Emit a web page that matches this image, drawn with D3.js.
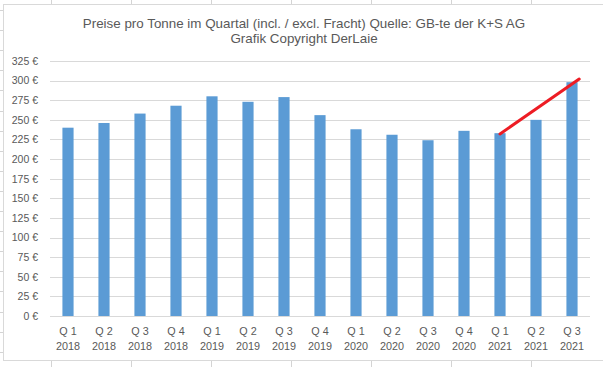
<!DOCTYPE html>
<html><head><meta charset="utf-8">
<script src="https://cdn.jsdelivr.net/npm/d3@7"></script>
<style>html,body{margin:0;padding:0;background:#fff;}svg{display:block;}</style>
</head><body>
<svg id="c" width="603" height="367"></svg>
<script>
const quarters = ["Q 1","Q 2","Q 3","Q 4","Q 1","Q 2","Q 3","Q 4","Q 1","Q 2","Q 3","Q 4","Q 1","Q 2","Q 3"];
const years = ["2018","2018","2018","2018","2019","2019","2019","2019","2020","2020","2020","2020","2021","2021","2021"];
const prices = [240, 246, 258, 268, 280, 273, 279, 256, 238, 231, 224, 236, 233, 250, 298];
const yTicks = [0,25,50,75,100,125,150,175,200,225,250,275,300,325];
const trendIdx = [12, 14.2];
const trendVal = [232, 302];
const titleLines = ["Preise pro Tonne im Quartal (incl. / excl. Fracht) Quelle: GB-te der K+S AG", "Grafik Copyright DerLaie"];

(function(){
const svg = d3.select("#c");
const W = 603, H = 367;
const cats = quarters.map((q,i)=>q+" "+years[i]);

// Excel sheet cell grid (background)
const sheet = svg.append("g").attr("stroke","#d4d4d4").attr("stroke-width",1);
for (let gx = 51.5; gx < W; gx += 80) {
  sheet.append("line").attr("x1",gx).attr("x2",gx).attr("y1",0).attr("y2",4);
  sheet.append("line").attr("x1",gx).attr("x2",gx).attr("y1",361).attr("y2",H);
}
for (let k = 0; 10 + 20.1*k < H; k++) {
  const gy = Math.round(10 + 20.1*k) + 0.5;
  sheet.append("line").attr("x1",0).attr("x2",3).attr("y1",gy).attr("y2",gy);
}
// chart area
svg.append("rect").attr("x",3.5).attr("y",4.5).attr("width",W+10).attr("height",356)
  .attr("fill","#fff").attr("stroke","#d9d9d9").attr("stroke-width",1);

const pLeft = 50, pRight = 590, pTop = 61, pBottom = 316;
const x = d3.scaleBand().domain(cats).range([pLeft, pRight]).paddingInner(0.69).paddingOuter(0.345);
const y = d3.scaleLinear().domain([0,325]).range([pBottom, pTop]);
const xi = d3.scaleLinear().domain([0,1]).range([x(cats[0]) + x.bandwidth()/2, x(cats[1]) + x.bandwidth()/2]);

// gridlines
svg.append("g").selectAll("line").data(yTicks).join("line")
  .attr("x1",pLeft).attr("x2",pRight)
  .attr("y1",d=>Math.round(y(d))+0.5).attr("y2",d=>Math.round(y(d))+0.5)
  .attr("stroke","#d9d9d9").attr("stroke-width",1);

// y axis labels
const yAxis = d3.axisLeft(y).tickValues(yTicks).tickSize(0).tickPadding(0).tickFormat(d=>d+" €");
const ya = svg.append("g").attr("transform",`translate(38,0)`).call(yAxis);
ya.select(".domain").remove();
ya.selectAll("text").attr("font-family","Liberation Sans, Arial, sans-serif").attr("font-size","10.5px").attr("fill","#595959");

// bars
svg.append("g").selectAll("rect").data(prices).join("rect")
  .attr("x",(d,i)=>x(cats[i])).attr("width",x.bandwidth())
  .attr("y",d=>y(d)).attr("height",d=>y(0)-y(d))
  .attr("fill","#5b9bd5");

// x labels
const xl = svg.append("g").attr("font-family","Liberation Sans, Arial, sans-serif").attr("font-size","10.8px").attr("fill","#595959").attr("text-anchor","middle");
cats.forEach((c,i)=>{
  const cx = x(c) + x.bandwidth()/2;
  xl.append("text").attr("x",cx).attr("y",335).text(quarters[i]);
  xl.append("text").attr("x",cx).attr("y",350).text(years[i]);
});

// red hand-drawn trend line
svg.append("line")
  .attr("x1",xi(trendIdx[0])).attr("y1",y(trendVal[0]))
  .attr("x2",xi(trendIdx[1])).attr("y2",y(trendVal[1]))
  .attr("stroke","#ed1c24").attr("stroke-width",3).attr("stroke-linecap","round");

// title
const tg = svg.append("g").attr("font-family","Liberation Sans, Arial, sans-serif").attr("fill","#595959").attr("text-anchor","middle");
const t1 = tg.append("text").attr("x",304).attr("y",28).attr("font-size","14px").text(titleLines[0]);
const len = t1.node().getComputedTextLength();
const fs = 14 * 443 / len;
t1.attr("font-size", fs + "px");
tg.append("text").attr("x",304).attr("y",43).attr("font-size", fs + "px").text(titleLines[1]);
})();
</script>
</body></html>
